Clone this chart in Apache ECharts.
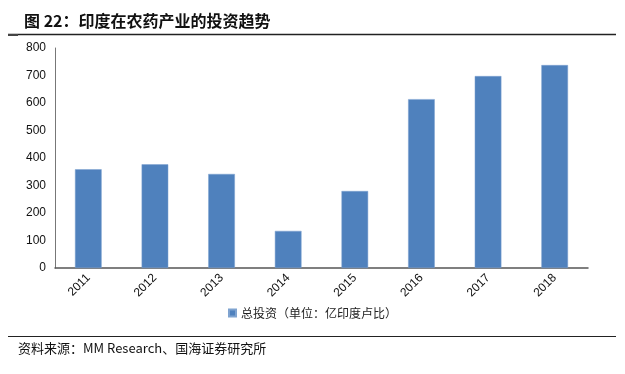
<!DOCTYPE html>
<html><head><meta charset="utf-8">
<script src="https://cdn.jsdelivr.net/npm/echarts@6/dist/echarts.min.js"></script>
<style>html,body{margin:0;padding:0;background:#fff}#c{width:625px;height:374px}</style>
</head><body><div id="c"></div>
<script>
const categories = ['2011','2012','2013','2014','2015','2016','2017','2018'];
const investment = [359, 377, 342, 135, 280, 614, 698, 738];
const yTicks = [0, 100, 200, 300, 400, 500, 600, 700, 800];
const seriesName = '总投资（单位：亿印度卢比）';
const titleText = '图 22：印度在农药产业的投资趋势';
const sourceText = '资料来源：MM Research、国海证券研究所';

const chart = echarts.init(document.getElementById('c'), null, {renderer:'canvas'});
chart.setOption({
  backgroundColor: '#fff',
  animation: false,
  title: {
    text: titleText, left: 19, top: 8,
    textStyle: {fontFamily: '"Noto Sans CJK SC"', fontSize: 16, fontWeight: 'bold', color: '#111'}
  },
  graphic: [
    {type:'line', shape:{x1:8,y1:34.5,x2:616,y2:34.5}, style:{stroke:'#222', lineWidth:1.5}},
    {type:'line', shape:{x1:8,y1:35,x2:18,y2:35}, style:{stroke:'#444', lineWidth:2}},
    {type:'line', shape:{x1:8,y1:336.5,x2:616,y2:336.5}, style:{stroke:'#222', lineWidth:1.2}},
    {type:'text', left: 18, top: 342, style:{text: sourceText, font: '13px "Noto Sans CJK SC"', fill:'#111'}}
  ],
  legend: {
    data: [seriesName], bottom: 50, left: 'center', itemWidth: 7, itemHeight: 7, icon: 'rect', itemGap: 5,
    textStyle: {fontFamily: '"Noto Sans CJK SC"', fontSize: 12, color: '#222'}
  },
  grid: {left: 55, right: 37, top: 48, bottom: 106, containLabel: false},
  xAxis: {
    type: 'category', data: categories,
    axisLine: {lineStyle: {color: '#555', width: 1.5}},
    axisTick: {show: false},
    axisLabel: {rotate: 45, fontFamily: 'Arial, "Liberation Sans"', fontSize: 12, color: '#111', margin: 8}
  },
  yAxis: {
    type: 'value', min: yTicks[0], max: yTicks[yTicks.length-1], interval: 100,
    axisLine: {show: true, lineStyle: {color: '#777', width: 1}},
    axisTick: {show: false},
    splitLine: {show: false},
    axisLabel: {fontFamily: 'Arial, "Liberation Sans"', fontSize: 12, color: '#111', margin: 9}
  },
  series: [{
    name: seriesName, type: 'bar', data: investment, barWidth: '40%',
    itemStyle: {color: '#4F81BD', borderColor: '#7FA3D0', borderWidth: 0.5}
  }]
});
</script></body></html>
